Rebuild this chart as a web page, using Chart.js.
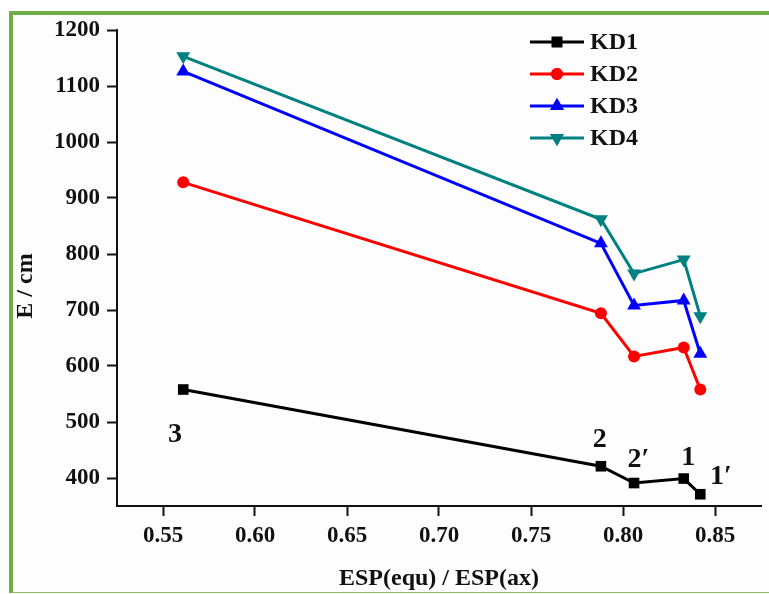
<!DOCTYPE html>
<html>
<head>
<meta charset="utf-8">
<script src="https://cdn.jsdelivr.net/npm/chart.js@4.4.1/dist/chart.umd.min.js"></script>
<style>
  html, body { margin: 0; padding: 0; background: #fff; }
  #wrap { position: relative; width: 769px; height: 594px; overflow: hidden; }
  #frame {
    position: absolute; left: 9px; top: 11px; width: 800px; height: 577px;
    border-left: 4px solid #70ad47; border-top: 4px solid #70ad47; border-bottom: 1px solid #8cbf6a;
    background: #fdfdfd;
  }
  #chart { position: absolute; left: 0; top: 0; }
</style>
</head>
<body>
<div id="wrap">
  <div id="frame"></div>
  <canvas id="chart" width="769" height="594"></canvas>
</div>
<script>
// ESP ratio on x, energy on y
var espRatio = [0.561, 0.788, 0.806, 0.833, 0.842];
var kd1 = [558, 421, 391, 399, 371];
var kd2 = [928, 694, 617, 633, 558];
var kd3 = [1126, 819, 708, 717, 622];
var kd4 = [1153, 862, 765, 790, 689];
var seriesNames = ['KD1', 'KD2', 'KD3', 'KD4'];

var xTicks = [0.55, 0.60, 0.65, 0.70, 0.75, 0.80, 0.85];
var yTicks = [400, 500, 600, 700, 800, 900, 1000, 1100, 1200];

// point labels written next to KD1
var pointTags = ['3', '2', '2\u2032', '1', '1\u2032'];
var tagX = [0.5565, 0.7873, 0.8084, 0.8354, 0.8532];
var tagY = [477, 468, 432, 437, 402];

var FONT = "'Liberation Serif', 'Times New Roman', serif";

function pts(ys) {
    return ys.map(function (y, i) { return { x: espRatio[i], y: y }; });
}

function series(label, ys, color, style, radius, rot) {
    return {
        label: label,
        data: pts(ys),
        borderColor: color,
        backgroundColor: color,
        borderWidth: 3,
        pointStyle: style,
        pointRadius: radius,
        pointRotation: rot,
        pointBorderWidth: 0,
        pointBackgroundColor: color,
        tension: 0
    };
}

var tagPlugin = {
    id: 'tags',
    afterDatasetsDraw: function (chart) {
        var ctx = chart.ctx, xs = chart.scales.x, ys = chart.scales.y;
        ctx.save();
        ctx.fillStyle = '#111';
        ctx.font = 'bold 28px ' + FONT;
        ctx.textAlign = 'center';
        ctx.textBaseline = 'middle';
        pointTags.forEach(function (t, i) {
            ctx.fillText(t, xs.getPixelForValue(tagX[i]), ys.getPixelForValue(tagY[i]));
        });
        ctx.restore();
    }
};

// legend drawn inside the plot: short line with marker, then name
var legendPlugin = {
    id: 'insideLegend',
    afterDraw: function (chart) {
        var ctx = chart.ctx;
        ctx.save();
        chart.data.datasets.forEach(function (ds, i) {
            var y = 42 + i * 32;
            ctx.strokeStyle = ds.borderColor;
            ctx.lineWidth = 3;
            ctx.beginPath();
            ctx.moveTo(530, y);
            ctx.lineTo(584, y);
            ctx.stroke();
            ctx.fillStyle = ds.borderColor;
            Chart.helpers.drawPoint(ctx, {
                pointStyle: ds.pointStyle,
                radius: ds.pointRadius,
                rotation: ds.pointRotation,
                borderWidth: 0
            }, 557, y);
            ctx.fill();
            ctx.fillStyle = '#111';
            ctx.font = 'bold 24px ' + FONT;
            ctx.textAlign = 'left';
            ctx.textBaseline = 'middle';
            ctx.fillText(ds.label, 590, y + 1);
        });
        ctx.restore();
    }
};

new Chart(document.getElementById('chart'), {
    type: 'line',
    data: {
        datasets: [
            series(seriesNames[0], kd1, '#000000', 'rect', 7.5, 0),
            series(seriesNames[1], kd2, '#ff0000', 'circle', 6, 0),
            series(seriesNames[2], kd3, '#0000ff', 'triangle', 8, 0),
            series(seriesNames[3], kd4, '#008080', 'triangle', 8, 180)
        ]
    },
    options: {
        responsive: false,
        animation: false,
        layout: { padding: { left: 0, top: 30, right: 7, bottom: 0 } },
        plugins: { legend: { display: false }, tooltip: { enabled: false } },
        scales: {
            x: {
                type: 'linear',
                min: 0.525,
                max: 0.875,
                afterBuildTicks: function (s) {
                    s.ticks = xTicks.map(function (v) { return { value: v }; });
                },
                afterFit: function (s) { s.height = 88; },
                ticks: {
                    color: '#111',
                    padding: 6,
                    font: { family: FONT, size: 23, weight: 'bold' },
                    callback: function (v) { return Number(v).toFixed(2); }
                },
                grid: { drawOnChartArea: false, drawTicks: true, tickLength: 10, tickWidth: 2, tickColor: '#111' },
                border: { display: true, color: '#111', width: 2 },
                title: {
                    display: true,
                    text: 'ESP(equ) / ESP(ax)',
                    color: '#111',
                    padding: { top: 0, bottom: 1 },
                    font: { family: FONT, size: 24, weight: 'bold' }
                }
            },
            y: {
                type: 'linear',
                min: 350,
                max: 1200,
                afterBuildTicks: function (s) {
                    s.ticks = yTicks.map(function (v) { return { value: v }; });
                },
                afterFit: function (s) { s.width = 117; },
                ticks: {
                    color: '#111',
                    padding: 7,
                    font: { family: FONT, size: 23, weight: 'bold' },
                    callback: function (v) { return String(v); }
                },
                grid: { drawOnChartArea: false, drawTicks: true, tickLength: 10, tickWidth: 2, tickColor: '#111' },
                border: { display: true, color: '#111', width: 2 },
                title: {
                    display: true,
                    text: 'E / cm      ',
                    color: '#111',
                    padding: { top: 11, bottom: 0 },
                    font: { family: FONT, size: 24, weight: 'bold' }
                }
            }
        }
    },
    plugins: [tagPlugin, legendPlugin]
});
</script>
</body>
</html>
